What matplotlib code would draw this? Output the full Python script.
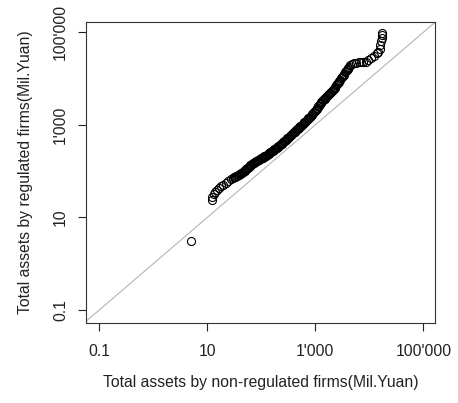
import numpy as np
import matplotlib.pyplot as plt

plt.rcParams['font.family'] = ['Liberation Sans', 'DejaVu Sans']

# QQ-plot values (log10 of Mil. Yuan), sorted
log_nonreg = [0.698, 1.081, 1.095, 1.12, 1.143, 1.18, 1.22, 1.26, 1.291, 1.34, 1.39, 1.43,
              1.476, 1.49, 1.505, 1.52, 1.535, 1.55, 1.565, 1.58, 1.595, 1.61, 1.625, 1.64, 1.661,
              1.675, 1.69, 1.705, 1.72, 1.735, 1.75, 1.765, 1.78, 1.795, 1.81, 1.825, 1.846,
              1.86, 1.875, 1.89, 1.905, 1.92, 1.935, 1.95, 1.965, 1.98, 1.995, 2.01, 2.025,
              2.04, 2.055, 2.07, 2.085, 2.106,
              2.12, 2.135, 2.15, 2.165, 2.18, 2.195, 2.21, 2.225, 2.24, 2.255, 2.27, 2.285,
              2.30, 2.315, 2.33, 2.346,
              2.36, 2.375, 2.39, 2.405, 2.42, 2.435, 2.45, 2.465, 2.48, 2.495, 2.51, 2.525,
              2.54, 2.555, 2.57, 2.587,
              2.60, 2.615, 2.63, 2.645, 2.66, 2.675, 2.69, 2.705, 2.72, 2.735, 2.75, 2.765,
              2.78, 2.795, 2.81, 2.825, 2.84, 2.855, 2.87, 2.885, 2.902,
              2.915, 2.93, 2.945, 2.96, 2.975, 2.99, 3.005, 3.02, 3.035, 3.05, 3.065, 3.08,
              3.095, 3.11, 3.125, 3.143,
              3.155, 3.17, 3.185, 3.20, 3.215, 3.23, 3.245, 3.26, 3.275, 3.29, 3.305, 3.328,
              3.34, 3.355, 3.37, 3.385, 3.40, 3.415, 3.43, 3.445, 3.46, 3.475, 3.494,
              3.505, 3.52, 3.535, 3.55, 3.565, 3.58, 3.595, 3.61, 3.625, 3.643,
              3.68, 3.72, 3.76, 3.80, 3.84, 3.88, 3.93, 3.98, 4.03, 4.08, 4.14, 4.16,
              4.19, 4.20, 4.22, 4.235, 4.235, 4.235]
log_reg = [0.497, 1.376, 1.44, 1.50, 1.555, 1.59, 1.63, 1.67, 1.700, 1.74, 1.78, 1.82,
           1.851, 1.862, 1.87, 1.881, 1.89, 1.902, 1.91, 1.918, 1.93, 1.941, 1.95, 1.966, 1.981,
           1.994, 2.012, 2.031, 2.044, 2.058, 2.077, 2.09, 2.108, 2.126, 2.14, 2.154, 2.175,
           2.182, 2.195, 2.203, 2.215, 2.222, 2.236, 2.243, 2.256, 2.262, 2.275, 2.286, 2.292,
           2.305, 2.316, 2.322, 2.336, 2.348,
           2.36, 2.376, 2.386, 2.403, 2.413, 2.43, 2.44, 2.456, 2.47, 2.48, 2.497, 2.508,
           2.525, 2.535, 2.551, 2.564,
           2.58, 2.593, 2.612, 2.625, 2.645, 2.657, 2.676, 2.689, 2.708, 2.721, 2.74, 2.753,
           2.773, 2.786, 2.806, 2.823,
           2.838, 2.852, 2.872, 2.885, 2.905, 2.918, 2.938, 2.951, 2.971, 2.984, 3.004, 3.017,
           3.037, 3.05, 3.07, 3.083, 3.103, 3.116, 3.136, 3.149, 3.168,
           3.186, 3.213, 3.232, 3.259, 3.278, 3.305, 3.324, 3.351, 3.37, 3.397, 3.416, 3.443,
           3.462, 3.489, 3.508, 3.536,
           3.552, 3.566, 3.587, 3.601, 3.622, 3.636, 3.657, 3.671, 3.692, 3.706, 3.727, 3.752,
           3.77, 3.8, 3.821, 3.85, 3.872, 3.901, 3.922, 3.952, 3.973, 4.002, 4.032,
           4.049, 4.079, 4.101, 4.131, 4.153, 4.183, 4.205, 4.236, 4.258, 4.292,
           4.31, 4.33, 4.34, 4.35, 4.356, 4.356, 4.36, 4.40, 4.44, 4.49, 4.54, 4.58,
           4.64, 4.72, 4.80, 4.875, 4.93, 4.983]

tick_vals = [0.1, 10, 1000, 100000]
tick_labels = ["0.1", "10", "1'000", "100'000"]

nonreg = 10 ** np.array(log_nonreg)
reg = 10 ** np.array(log_reg)

fig = plt.figure(figsize=(4.58, 4.03), dpi=100)
ax = fig.add_axes([86 / 458, 80 / 403, 349 / 458, 301 / 403])

xlim = (10 ** -1.246, 10 ** 5.213)
ylim = (10 ** -1.281, 10 ** 5.220)

# identity line
ax.plot([1e-3, 1e7], [1e-3, 1e7], color='#b4b4b4', lw=0.8, zorder=1)
ax.plot(nonreg, reg, 'o', mfc='none', mec='black', mew=0.8, ms=5.8, zorder=2)

ax.set_xscale('log')
ax.set_yscale('log')
ax.set_xlim(xlim)
ax.set_ylim(ylim)
ax.minorticks_off()
ax.set_xticks(tick_vals)
ax.set_xticklabels(tick_labels)
ax.set_yticks(tick_vals)
ax.set_yticklabels(tick_labels, rotation=90, va='center')

ax.tick_params(axis='x', length=6, width=0.8, pad=9, labelsize=11.3, colors='#222222')
ax.tick_params(axis='y', length=6, width=0.8, pad=7, labelsize=11.3, colors='#222222')
for s in ax.spines.values():
    s.set_linewidth(0.8)
    s.set_color('#333333')

ax.set_xlabel('Total assets by non-regulated firms(Mil.Yuan)', fontsize=11.3, labelpad=12, color='#222222')
ax.set_ylabel('Total assets by regulated firms(Mil.Yuan)', fontsize=11.3, labelpad=14, color='#222222')

fig.savefig('out.png', dpi=100)
